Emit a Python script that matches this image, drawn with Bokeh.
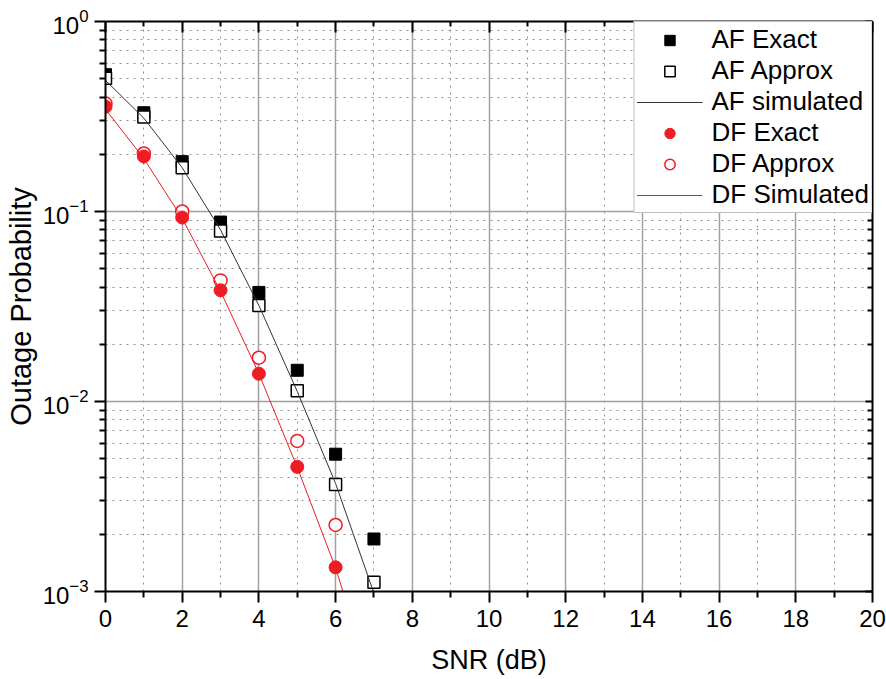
import numpy as np
from bokeh.plotting import figure
from bokeh.models import (Range1d, FixedTicker, LinearAxis, LogAxis, Legend,
                          LegendItem, LogTickFormatter)
from bokeh.embed import file_html
from bokeh.resources import INLINE

# ---- data ----
snr_af = [0, 1, 2, 3, 4, 5, 6, 7]
af_exact = [0.525, 0.331, 0.183, 0.088, 0.0375, 0.0146, 0.00528, 0.00189]
af_approx = [0.503, 0.314, 0.170, 0.079, 0.032, 0.0114, 0.00366, 0.00112]
af_sim = [0.49, 0.31, 0.17, 0.08, 0.032, 0.0113, 0.0037, 0.00098]

snr_df = [0, 1, 2, 3, 4, 5, 6]
df_exact = [0.356, 0.195, 0.093, 0.0385, 0.014, 0.00453, 0.00134]
df_approx = [0.37, 0.202, 0.100, 0.0434, 0.017, 0.0062, 0.00224]
snr_df_sim = [0, 1, 2, 3, 4, 5, 6, 7]
df_sim = [0.345, 0.19, 0.092, 0.038, 0.014, 0.0045, 0.00133, 0.0003]

x_major = [0, 2, 4, 6, 8, 10, 12, 14, 16, 18, 20]
x_minor = [1, 3, 5, 7, 9, 11, 13, 15, 17, 19]
y_major = [1e-3, 1e-2, 1e-1, 1.0]
y_minor = [m * 10.0 ** k for k in (-3, -2, -1) for m in range(2, 10)]

RED = "#ee1c24"
FONT = "Liberation Sans"

p = figure(width=886, height=679, output_backend="svg", toolbar_location=None,
           y_axis_type="log", x_range=Range1d(0, 20), y_range=Range1d(1e-3, 1.0),
           min_border_left=105, min_border_right=14, min_border_top=21,
           min_border_bottom=88, outline_line_color=None,
           background_fill_color="white", border_fill_color="white")

xt = FixedTicker(ticks=x_major, minor_ticks=x_minor)
yt = FixedTicker(ticks=y_major, minor_ticks=y_minor)
p.xaxis.ticker = xt
p.yaxis.ticker = yt
p.xgrid.ticker = xt
p.ygrid.ticker = yt

for g in (p.xgrid[0], p.ygrid[0]):
    g.grid_line_color = "#a0a0a0"
    g.grid_line_width = 1.5
    g.minor_grid_line_color = "#909090"
    g.minor_grid_line_width = 1
    g.minor_grid_line_dash = "2 5"

for ax in (p.xaxis[0], p.yaxis[0]):
    ax.axis_line_color = "black"
    ax.axis_line_width = 2
    ax.major_tick_line_color = "black"
    ax.major_tick_line_width = 2
    ax.minor_tick_line_color = "black"
    ax.minor_tick_line_width = 2
    ax.major_tick_out = 11
    ax.major_tick_in = 0
    ax.minor_tick_out = 6
    ax.minor_tick_in = 0
    ax.major_label_text_font = FONT
    ax.major_label_text_font_size = "24px"
    ax.major_label_text_color = "black"
    ax.axis_label_text_font = FONT
    ax.axis_label_text_font_style = "normal"
    ax.axis_label_text_color = "black"

p.xaxis.axis_label = "SNR (dB)"
p.yaxis.axis_label = "Outage Probability"
p.xaxis.axis_label_text_font_size = "27px"
p.yaxis.axis_label_text_font_size = "29px"
p.xaxis.major_label_standoff = 7
p.xaxis.axis_label_standoff = 15
p.yaxis.major_label_standoff = 6
p.yaxis.axis_label_standoff = 3
p.yaxis.formatter = LogTickFormatter()

# mirrored top / right axes (ticks only)
top = LinearAxis(ticker=xt)
right = LogAxis(ticker=yt)
for ax, inn, minn, ticks in ((top, 11, 5, x_major), (right, 7, 5, y_major)):
    ax.axis_line_color = "black"
    ax.axis_line_width = 2
    ax.major_tick_line_color = "black"
    ax.major_tick_line_width = 2
    ax.minor_tick_line_color = "black"
    ax.minor_tick_line_width = 2
    ax.major_tick_in = inn
    ax.major_tick_out = 0
    ax.minor_tick_in = minn
    ax.minor_tick_out = 0
    ax.major_label_overrides = {t: "" for t in ticks}
    ax.major_label_standoff = 0
p.add_layout(top, "above")
p.add_layout(right, "right")

# ---- data marks ----
r_afe = p.scatter(snr_af, af_exact, marker="square", size=12,
                  fill_color="black", line_color="black")
r_afa = p.scatter(snr_af, af_approx, marker="square", size=12,
                  fill_color="white", line_color="black", line_width=1.5)
r_dfa = p.scatter(snr_df, df_approx, marker="circle", size=13,
                  fill_color="white", line_color=RED, line_width=1.5)
r_dfe = p.scatter(snr_df, df_exact, marker="circle", size=13,
                  fill_color=RED, line_color=RED)
r_afs = p.line(snr_af, af_sim, line_color="#333333", line_width=1)
r_dfs_l = p.line(snr_df_sim, df_sim, line_color=RED, line_width=1)
r_dfs_m = p.scatter(snr_df_sim, df_sim, marker="dash", angle=np.pi / 2,
                    size=12, line_color=RED, line_width=1)

legend = Legend(items=[
    LegendItem(label="AF Exact", renderers=[r_afe]),
    LegendItem(label="AF Approx", renderers=[r_afa]),
    LegendItem(label="AF simulated", renderers=[r_afs]),
    LegendItem(label="DF Exact", renderers=[r_dfe]),
    LegendItem(label="DF Approx", renderers=[r_dfa]),
    LegendItem(label="DF Simulated", renderers=[r_dfs_l, r_dfs_m]),
], location="top_right")
legend.margin = 0
legend.padding = 2
legend.spacing = 0
legend.glyph_width = 66
legend.glyph_height = 26
legend.label_height = 26
legend.label_standoff = 9
legend.label_text_font = FONT
legend.label_text_font_size = "26px"
legend.label_text_color = "black"
legend.border_line_color = "#808080"
legend.border_line_width = 1
legend.background_fill_color = "white"
legend.background_fill_alpha = 1.0
p.add_layout(legend)

open("out.html", "w").write(file_html(p, INLINE))
